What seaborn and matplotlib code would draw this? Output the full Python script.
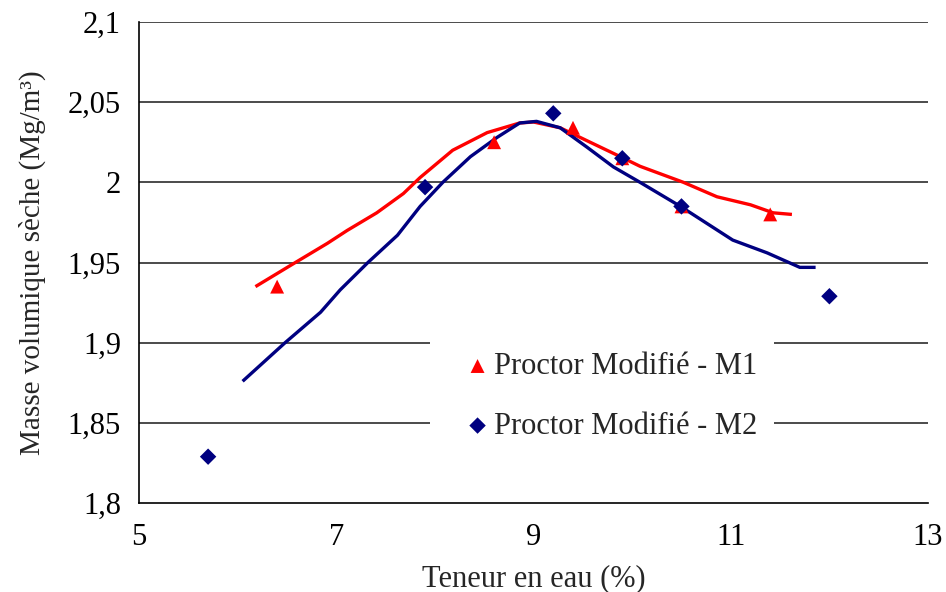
import numpy as np
import pandas as pd
import matplotlib
matplotlib.use("Agg")
import matplotlib.pyplot as plt
import seaborn as sns

# measured points
m1_w = [6.4, 8.6, 9.4, 9.9, 10.5, 11.4]
m1_d = [1.935, 2.025, 2.034, 2.015, 1.985, 1.980]
m2_w = [5.7, 7.9, 9.2, 9.9, 10.5, 12.0]
m2_d = [1.829, 1.997, 2.043, 2.015, 1.985, 1.929]

# trend curves
m1_curve_w = [6.18, 6.53, 6.91, 7.11, 7.41, 7.68, 7.85, 8.18, 8.53, 8.86, 9.00, 9.27,
              9.54, 9.88, 10.08, 10.52, 10.86, 11.20, 11.43, 11.62]
m1_curve_d = [1.935, 1.948, 1.962, 1.970, 1.981, 1.993, 2.003, 2.020, 2.031, 2.037, 2.0376, 2.034,
              2.026, 2.016, 2.010, 2.000, 1.991, 1.986, 1.981, 1.980]
m2_curve_w = [6.05, 6.48, 6.84, 7.04, 7.32, 7.62, 7.85, 8.08, 8.36, 8.63, 8.86, 9.03, 9.27,
              9.54, 9.81, 10.08, 10.49, 11.02, 11.37, 11.70, 11.86]
m2_curve_d = [1.876, 1.900, 1.919, 1.933, 1.950, 1.967, 1.985, 2.000, 2.016, 2.028, 2.037, 2.038, 2.034,
              2.022, 2.0096, 2.000, 1.985, 1.964, 1.956, 1.947, 1.947]

xticks = [5, 7, 9, 11, 13]
yticks = [1.8, 1.85, 1.9, 1.95, 2.0, 2.05, 2.1]
ytick_labels = ["1,8", "1,85", "1,9", "1,95", "2", "2,05", "2,1"]

sns.set_style("white")
plt.rcParams['font.family'] = ['Liberation Serif', 'DejaVu Serif']

fig = plt.figure(figsize=(9.46, 5.92), dpi=100)
ax = fig.add_axes([0.147, 0.150, 0.834, 0.813])

for yv in yticks[1:]:
    ax.axhline(yv, color="#1a1a1a", lw=1.1, zorder=1)

sns.lineplot(x=m1_curve_w, y=m1_curve_d, sort=False, color="#ff0000", lw=2.4, ax=ax, zorder=3,
             solid_joinstyle="round", solid_capstyle="butt")
sns.lineplot(x=m2_curve_w, y=m2_curve_d, sort=False, color="#000080", lw=2.4, ax=ax, zorder=3,
             solid_joinstyle="round", solid_capstyle="butt")
sns.scatterplot(x=m1_w, y=m1_d, marker="^", color="#ff0000", s=100, edgecolor="none",
                label="Proctor Modifié - M1", ax=ax, zorder=4)
sns.scatterplot(x=m2_w, y=m2_d, marker="D", color="#000080", s=70, edgecolor="none",
                label="Proctor Modifié - M2", ax=ax, zorder=4)

ax.set_xlim(5, 13)
ax.set_ylim(1.8, 2.1)
ax.set_xticks(xticks)
ax.set_xticklabels([str(t) for t in xticks])
ax.set_yticks(yticks)
ax.set_yticklabels(ytick_labels)
ax.tick_params(axis="both", labelsize=22, colors="black", length=6, width=1)
ax.tick_params(axis="x", direction="out", pad=8)
ax.tick_params(axis="y", direction="out", pad=7)
for side in ["top", "right"]:
    ax.spines[side].set_visible(False)
for side in ["left", "bottom"]:
    ax.spines[side].set_color("black")
    ax.spines[side].set_linewidth(1.2)

ax.set_xlabel("Teneur en eau (%)", fontsize=22, labelpad=9)
ax.set_ylabel("Masse volumique sèche (Mg/m³)", fontsize=21, labelpad=16)

leg = ax.legend(loc="upper left", bbox_to_anchor=(0.369, 0.349), frameon=True, fancybox=False,
                framealpha=1, edgecolor="white", fontsize=22, handletextpad=-0.45,
                labelspacing=1.0, borderpad=0.55, handlelength=2.0, borderaxespad=0)
leg.get_frame().set_linewidth(0)
leg.set_zorder(5)

fig.savefig("out.png", dpi=100)
